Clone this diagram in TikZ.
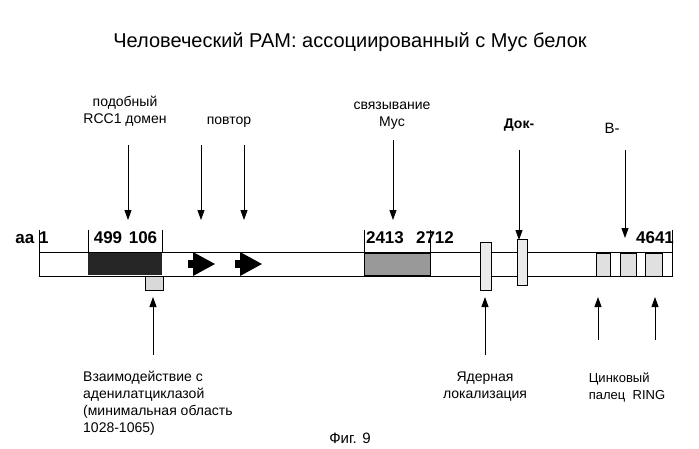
\documentclass[tikz,border=0pt]{standalone}
\usepackage{fontspec}
\setmainfont{Liberation Sans}
\usetikzlibrary{arrows.meta}
\begin{document}
\begin{tikzpicture}[x=1pt,y=-1pt,
 lab/.style={font=\fontsize{14}{17}\selectfont,align=center,inner sep=0},
 num/.style={font=\bfseries\fontsize{17}{19}\selectfont,inner sep=0},
 arr/.style={-{Triangle[length=10pt,width=7pt]},line width=0.9pt},
 bx/.style={draw,line width=0.8pt}]
\useasboundingbox (0,0) rectangle (699,448);
\node[font=\fontsize{20}{22}\selectfont] (title) at (350,42) {Человеческий PAM: ассоциированный с Myc белок};
% bar
\draw[bx] (39,252) rectangle (672,276);
\foreach \x/\n in {39/t1,88/t2,162/t3,364/t4,430/t5,672/t6}{\coordinate (\n a) at (\x,230); \coordinate (\n b) at (\x,252); \draw[line width=0.8pt] (\n a)--(\n b);}
\fill[black!85] (88,253) rectangle (162,275);
\draw[bx,fill=black!15] (145,276) rectangle (163,290);
\draw[bx,fill=black!40] (364,253) rectangle (430,275);
\draw[bx,fill=black!8] (480,242) rectangle (491,290);
\draw[bx,fill=black!8] (517,239) rectangle (527,285);
\draw[bx,fill=black!12] (596,253) rectangle (610,276);
\draw[bx,fill=black!12] (620,253) rectangle (636,276);
\draw[bx,fill=black!12] (645,253) rectangle (662,276);
\fill (188,260) rectangle (193,268); \fill (193,252) -- (215,264) -- (193,276) -- cycle;
\fill (235,260) rectangle (240,268); \fill (240,252) -- (262,264) -- (240,276) -- cycle;
% numbers
\node[num] (n1) at (32,238) {аа 1};
\node[num] (n2) at (108,238) {499};
\node[num] (n3) at (143,238) {106};
\node[num] (n4) at (385,238) {2413};
\node[num] (n5) at (435,238) {2712};
\node[num] (n6) at (655,238) {4641};
% top labels and arrows
\node[lab] (l1) at (125,111) {подобный\\RCC1 домен};
\node[lab] (l2) at (229,122) {повтор};
\node[lab] (l3) at (392,116) {связывание\\Myc};
\node[lab,font=\bfseries\fontsize{14}{17}\selectfont] (l4) at (519,125) {Док-};
\node[lab,font=\fontsize{15}{17}\selectfont] (l5) at (612,128) {В-};
\foreach \x/\a/\b/\n in {128/145/220/d1,201/145/220/d2,244/145/220/d3,393/140/220/d4,519/150/240/d5,625/150/238/d6}{\coordinate (\n s) at (\x,\a); \coordinate (\n e) at (\x,\b); \draw[arr] (\n s)--(\n e);}
% bottom arrows
\foreach \x/\a/\n in {153/355/u1,485/355/u2,598/340/u3,655/340/u4}{\coordinate (\n s) at (\x,\a); \coordinate (\n e) at (\x,297); \draw[arr] (\n s)--(\n e);}
\node[lab,align=left,anchor=north west] (b1) at (83,371) {Взаимодействие с\\аденилатциклазой\\(минимальная область\\1028-1065)};
\node[lab] (b2) at (485,387) {Ядерная\\локализация};
\node[lab,font=\fontsize{13}{17}\selectfont,align=left] (b3) at (627,387) {Цинковый\\палец\ \ RING};
\node[lab,font=\fontsize{15}{17}\selectfont] (fig) at (350,438) {Фиг. 9};
\end{tikzpicture}
\end{document}
